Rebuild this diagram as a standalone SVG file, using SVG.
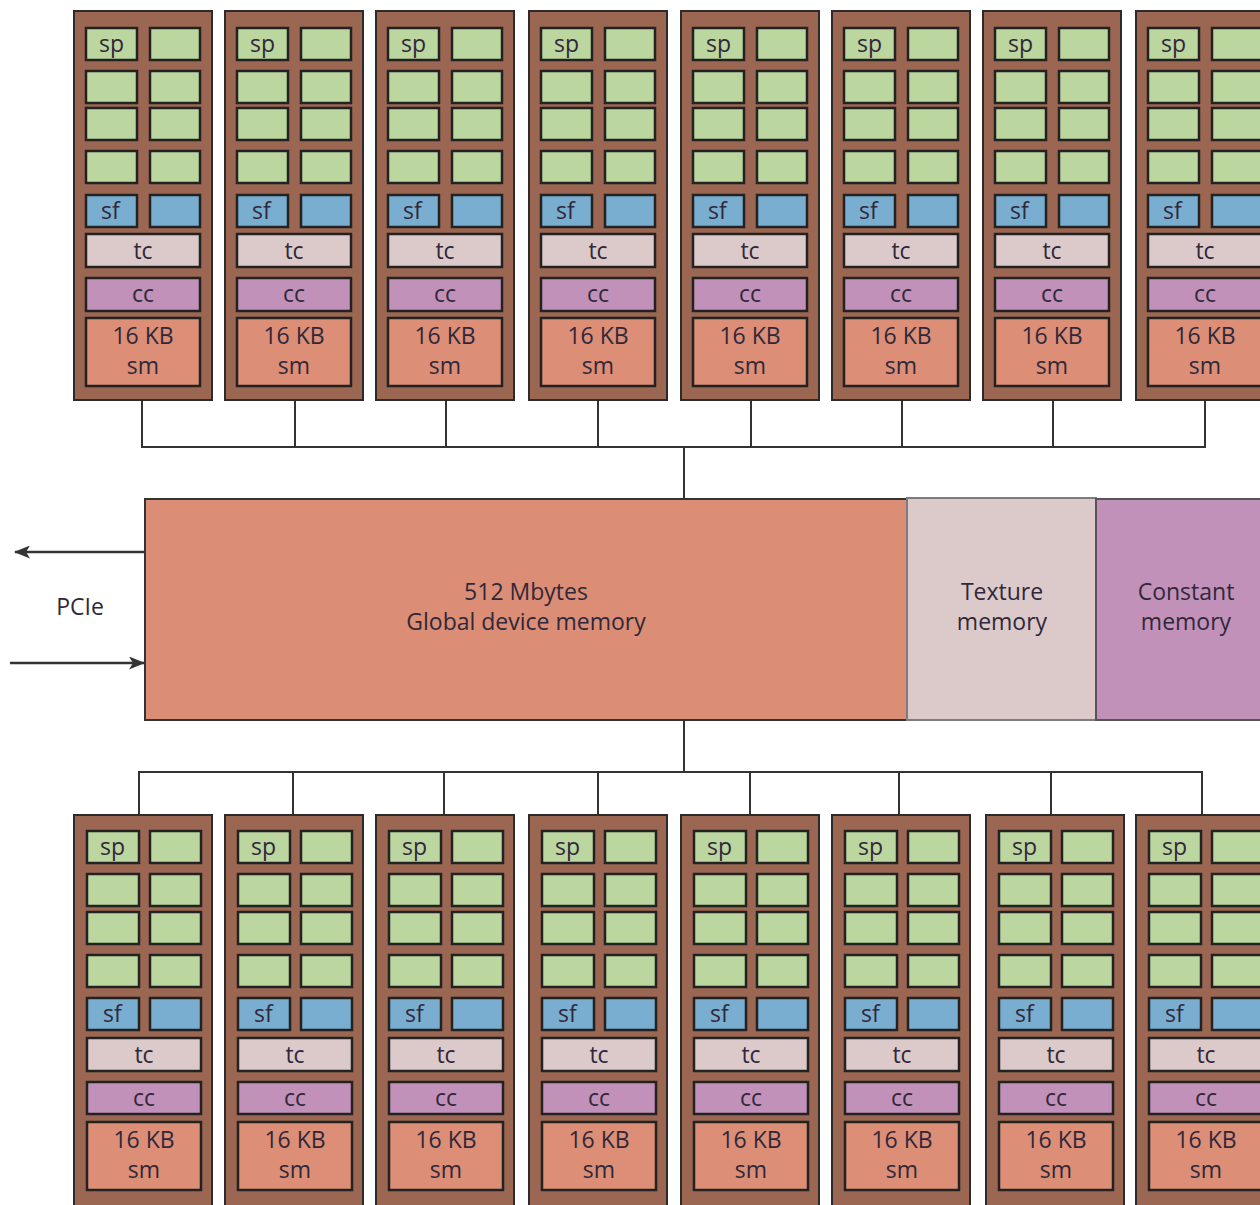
<svg xmlns="http://www.w3.org/2000/svg" width="1260" height="1205" viewBox="0 0 1260 1205">
<defs>
<style>
.bg{fill:#ffffff}
.sm{fill:#9c6752;stroke:#2e2a2a;stroke-width:2}
.sp{fill:#bcd69f;stroke:#222;stroke-width:2.5}
.sf{fill:#7aaed0;stroke:#222;stroke-width:2.5}
.tc{fill:#dccaca;stroke:#222;stroke-width:2.5}
.cc{fill:#c291ba;stroke:#222;stroke-width:2.5}
.sh{fill:#dc8e76;stroke:#222;stroke-width:2.5}
.t{font-family:"Open Sans","Liberation Sans",sans-serif;font-size:23px;fill:#30283a}
.m{text-anchor:middle}
.ln{fill:none;stroke:#333;stroke-width:2}
.ar{fill:none;stroke:#333;stroke-width:2.5}
.glob{fill:#db8d76;stroke:#333;stroke-width:2}
.tex{fill:#dcc9c9;stroke:#7c7c7c;stroke-width:2}
.con{fill:#c291b9;stroke:#555;stroke-width:2}
</style>
<marker id="ah" markerWidth="16" markerHeight="13" refX="15" refY="6.5" orient="auto" markerUnits="userSpaceOnUse">
<path d="M0,0 L16,6.5 L0,13 L4,6.5 Z" fill="#333"/>
</marker>
</defs>
<rect class="bg" x="0" y="0" width="1260" height="1205"/>

<g id="connectors">
<path class="ln" d="M142,400 V447 M295,400 V447 M446,400 V447 M598,400 V447 M751,400 V447 M902,400 V447 M1053,400 V447 M1205,400 V447 M141,447 H1206 M684,447 V499"/>
<path class="ln" d="M684,720 V772 M138,772 H1203 M139,772 V815 M293,772 V815 M444,772 V815 M598,772 V815 M750,772 V815 M899,772 V815 M1051,772 V815 M1202,772 V815"/>
<path class="ar" d="M145,552 H15" marker-end="url(#ah)"/>
<path class="ar" d="M10,663 H144" marker-end="url(#ah)"/>
</g>

<g id="memory">
<rect class="glob" x="145" y="499" width="1130" height="221"/>
<rect class="tex" x="907" y="498" width="189" height="222"/>
<rect class="con" x="1096" y="499" width="180" height="221"/>
<text class="t m" x="526" y="600">512 Mbytes</text>
<text class="t m" x="526" y="630">Global device memory</text>
<text class="t m" x="1002" y="600">Texture</text>
<text class="t m" x="1002" y="630">memory</text>
<text class="t m" x="1186" y="600">Constant</text>
<text class="t m" x="1186" y="630">memory</text>
</g>
<g id="pcie"><text class="t m" x="80" y="615">PCIe</text></g>

<!-- Top SMs -->
<g id="sm-top-1" transform="translate(74,11)">
<rect class="sm" x="0" y="0" width="138" height="389"/>
<rect class="sp" x="12" y="17" width="51" height="32"/><rect class="sp" x="76" y="17" width="50" height="32"/>
<rect class="sp" x="12" y="60" width="51" height="32"/><rect class="sp" x="76" y="60" width="50" height="32"/>
<rect class="sp" x="12" y="97" width="51" height="32"/><rect class="sp" x="76" y="97" width="50" height="32"/>
<rect class="sp" x="12" y="140" width="51" height="32"/><rect class="sp" x="76" y="140" width="50" height="32"/>
<rect class="sf" x="12" y="184" width="51" height="32"/><rect class="sf" x="76" y="184" width="50" height="32"/>
<rect class="tc" x="12" y="223" width="114" height="33"/>
<rect class="cc" x="12" y="267" width="114" height="33"/>
<rect class="sh" x="12" y="307" width="114" height="68"/>
<text class="t" x="25" y="41">sp</text><text class="t" x="27" y="208">sf</text>
<text class="t m" x="69" y="248">tc</text><text class="t m" x="69" y="291">cc</text>
<text class="t m" x="69" y="333">16 KB</text><text class="t m" x="69" y="363">sm</text>
</g>
<g id="sm-top-2" transform="translate(225,11)">
<rect class="sm" x="0" y="0" width="138" height="389"/>
<rect class="sp" x="12" y="17" width="51" height="32"/><rect class="sp" x="76" y="17" width="50" height="32"/>
<rect class="sp" x="12" y="60" width="51" height="32"/><rect class="sp" x="76" y="60" width="50" height="32"/>
<rect class="sp" x="12" y="97" width="51" height="32"/><rect class="sp" x="76" y="97" width="50" height="32"/>
<rect class="sp" x="12" y="140" width="51" height="32"/><rect class="sp" x="76" y="140" width="50" height="32"/>
<rect class="sf" x="12" y="184" width="51" height="32"/><rect class="sf" x="76" y="184" width="50" height="32"/>
<rect class="tc" x="12" y="223" width="114" height="33"/>
<rect class="cc" x="12" y="267" width="114" height="33"/>
<rect class="sh" x="12" y="307" width="114" height="68"/>
<text class="t" x="25" y="41">sp</text><text class="t" x="27" y="208">sf</text>
<text class="t m" x="69" y="248">tc</text><text class="t m" x="69" y="291">cc</text>
<text class="t m" x="69" y="333">16 KB</text><text class="t m" x="69" y="363">sm</text>
</g>
<g id="sm-top-3" transform="translate(376,11)">
<rect class="sm" x="0" y="0" width="138" height="389"/>
<rect class="sp" x="12" y="17" width="51" height="32"/><rect class="sp" x="76" y="17" width="50" height="32"/>
<rect class="sp" x="12" y="60" width="51" height="32"/><rect class="sp" x="76" y="60" width="50" height="32"/>
<rect class="sp" x="12" y="97" width="51" height="32"/><rect class="sp" x="76" y="97" width="50" height="32"/>
<rect class="sp" x="12" y="140" width="51" height="32"/><rect class="sp" x="76" y="140" width="50" height="32"/>
<rect class="sf" x="12" y="184" width="51" height="32"/><rect class="sf" x="76" y="184" width="50" height="32"/>
<rect class="tc" x="12" y="223" width="114" height="33"/>
<rect class="cc" x="12" y="267" width="114" height="33"/>
<rect class="sh" x="12" y="307" width="114" height="68"/>
<text class="t" x="25" y="41">sp</text><text class="t" x="27" y="208">sf</text>
<text class="t m" x="69" y="248">tc</text><text class="t m" x="69" y="291">cc</text>
<text class="t m" x="69" y="333">16 KB</text><text class="t m" x="69" y="363">sm</text>
</g>
<g id="sm-top-4" transform="translate(529,11)">
<rect class="sm" x="0" y="0" width="138" height="389"/>
<rect class="sp" x="12" y="17" width="51" height="32"/><rect class="sp" x="76" y="17" width="50" height="32"/>
<rect class="sp" x="12" y="60" width="51" height="32"/><rect class="sp" x="76" y="60" width="50" height="32"/>
<rect class="sp" x="12" y="97" width="51" height="32"/><rect class="sp" x="76" y="97" width="50" height="32"/>
<rect class="sp" x="12" y="140" width="51" height="32"/><rect class="sp" x="76" y="140" width="50" height="32"/>
<rect class="sf" x="12" y="184" width="51" height="32"/><rect class="sf" x="76" y="184" width="50" height="32"/>
<rect class="tc" x="12" y="223" width="114" height="33"/>
<rect class="cc" x="12" y="267" width="114" height="33"/>
<rect class="sh" x="12" y="307" width="114" height="68"/>
<text class="t" x="25" y="41">sp</text><text class="t" x="27" y="208">sf</text>
<text class="t m" x="69" y="248">tc</text><text class="t m" x="69" y="291">cc</text>
<text class="t m" x="69" y="333">16 KB</text><text class="t m" x="69" y="363">sm</text>
</g>
<g id="sm-top-5" transform="translate(681,11)">
<rect class="sm" x="0" y="0" width="138" height="389"/>
<rect class="sp" x="12" y="17" width="51" height="32"/><rect class="sp" x="76" y="17" width="50" height="32"/>
<rect class="sp" x="12" y="60" width="51" height="32"/><rect class="sp" x="76" y="60" width="50" height="32"/>
<rect class="sp" x="12" y="97" width="51" height="32"/><rect class="sp" x="76" y="97" width="50" height="32"/>
<rect class="sp" x="12" y="140" width="51" height="32"/><rect class="sp" x="76" y="140" width="50" height="32"/>
<rect class="sf" x="12" y="184" width="51" height="32"/><rect class="sf" x="76" y="184" width="50" height="32"/>
<rect class="tc" x="12" y="223" width="114" height="33"/>
<rect class="cc" x="12" y="267" width="114" height="33"/>
<rect class="sh" x="12" y="307" width="114" height="68"/>
<text class="t" x="25" y="41">sp</text><text class="t" x="27" y="208">sf</text>
<text class="t m" x="69" y="248">tc</text><text class="t m" x="69" y="291">cc</text>
<text class="t m" x="69" y="333">16 KB</text><text class="t m" x="69" y="363">sm</text>
</g>
<g id="sm-top-6" transform="translate(832,11)">
<rect class="sm" x="0" y="0" width="138" height="389"/>
<rect class="sp" x="12" y="17" width="51" height="32"/><rect class="sp" x="76" y="17" width="50" height="32"/>
<rect class="sp" x="12" y="60" width="51" height="32"/><rect class="sp" x="76" y="60" width="50" height="32"/>
<rect class="sp" x="12" y="97" width="51" height="32"/><rect class="sp" x="76" y="97" width="50" height="32"/>
<rect class="sp" x="12" y="140" width="51" height="32"/><rect class="sp" x="76" y="140" width="50" height="32"/>
<rect class="sf" x="12" y="184" width="51" height="32"/><rect class="sf" x="76" y="184" width="50" height="32"/>
<rect class="tc" x="12" y="223" width="114" height="33"/>
<rect class="cc" x="12" y="267" width="114" height="33"/>
<rect class="sh" x="12" y="307" width="114" height="68"/>
<text class="t" x="25" y="41">sp</text><text class="t" x="27" y="208">sf</text>
<text class="t m" x="69" y="248">tc</text><text class="t m" x="69" y="291">cc</text>
<text class="t m" x="69" y="333">16 KB</text><text class="t m" x="69" y="363">sm</text>
</g>
<g id="sm-top-7" transform="translate(983,11)">
<rect class="sm" x="0" y="0" width="138" height="389"/>
<rect class="sp" x="12" y="17" width="51" height="32"/><rect class="sp" x="76" y="17" width="50" height="32"/>
<rect class="sp" x="12" y="60" width="51" height="32"/><rect class="sp" x="76" y="60" width="50" height="32"/>
<rect class="sp" x="12" y="97" width="51" height="32"/><rect class="sp" x="76" y="97" width="50" height="32"/>
<rect class="sp" x="12" y="140" width="51" height="32"/><rect class="sp" x="76" y="140" width="50" height="32"/>
<rect class="sf" x="12" y="184" width="51" height="32"/><rect class="sf" x="76" y="184" width="50" height="32"/>
<rect class="tc" x="12" y="223" width="114" height="33"/>
<rect class="cc" x="12" y="267" width="114" height="33"/>
<rect class="sh" x="12" y="307" width="114" height="68"/>
<text class="t" x="25" y="41">sp</text><text class="t" x="27" y="208">sf</text>
<text class="t m" x="69" y="248">tc</text><text class="t m" x="69" y="291">cc</text>
<text class="t m" x="69" y="333">16 KB</text><text class="t m" x="69" y="363">sm</text>
</g>
<g id="sm-top-8" transform="translate(1136,11)">
<rect class="sm" x="0" y="0" width="138" height="389"/>
<rect class="sp" x="12" y="17" width="51" height="32"/><rect class="sp" x="76" y="17" width="50" height="32"/>
<rect class="sp" x="12" y="60" width="51" height="32"/><rect class="sp" x="76" y="60" width="50" height="32"/>
<rect class="sp" x="12" y="97" width="51" height="32"/><rect class="sp" x="76" y="97" width="50" height="32"/>
<rect class="sp" x="12" y="140" width="51" height="32"/><rect class="sp" x="76" y="140" width="50" height="32"/>
<rect class="sf" x="12" y="184" width="51" height="32"/><rect class="sf" x="76" y="184" width="50" height="32"/>
<rect class="tc" x="12" y="223" width="114" height="33"/>
<rect class="cc" x="12" y="267" width="114" height="33"/>
<rect class="sh" x="12" y="307" width="114" height="68"/>
<text class="t" x="25" y="41">sp</text><text class="t" x="27" y="208">sf</text>
<text class="t m" x="69" y="248">tc</text><text class="t m" x="69" y="291">cc</text>
<text class="t m" x="69" y="333">16 KB</text><text class="t m" x="69" y="363">sm</text>
</g>

<!-- Bottom SMs -->
<g id="sm-bot-1" transform="translate(74,815)">
<rect class="sm" x="0" y="0" width="138" height="400"/>
<rect class="sp" x="13" y="16" width="52" height="32"/><rect class="sp" x="76" y="16" width="51" height="32"/>
<rect class="sp" x="13" y="59" width="52" height="32"/><rect class="sp" x="76" y="59" width="51" height="32"/>
<rect class="sp" x="13" y="97" width="52" height="32"/><rect class="sp" x="76" y="97" width="51" height="32"/>
<rect class="sp" x="13" y="140" width="52" height="32"/><rect class="sp" x="76" y="140" width="51" height="32"/>
<rect class="sf" x="13" y="183" width="52" height="32"/><rect class="sf" x="76" y="183" width="51" height="32"/>
<rect class="tc" x="13" y="223" width="114" height="33"/>
<rect class="cc" x="13" y="267" width="114" height="32"/>
<rect class="sh" x="13" y="307" width="114" height="68"/>
<text class="t" x="26" y="40">sp</text><text class="t" x="29" y="207">sf</text>
<text class="t m" x="70" y="248">tc</text><text class="t m" x="70" y="291">cc</text>
<text class="t m" x="70" y="333">16 KB</text><text class="t m" x="70" y="363">sm</text>
</g>
<g id="sm-bot-2" transform="translate(225,815)">
<rect class="sm" x="0" y="0" width="138" height="400"/>
<rect class="sp" x="13" y="16" width="52" height="32"/><rect class="sp" x="76" y="16" width="51" height="32"/>
<rect class="sp" x="13" y="59" width="52" height="32"/><rect class="sp" x="76" y="59" width="51" height="32"/>
<rect class="sp" x="13" y="97" width="52" height="32"/><rect class="sp" x="76" y="97" width="51" height="32"/>
<rect class="sp" x="13" y="140" width="52" height="32"/><rect class="sp" x="76" y="140" width="51" height="32"/>
<rect class="sf" x="13" y="183" width="52" height="32"/><rect class="sf" x="76" y="183" width="51" height="32"/>
<rect class="tc" x="13" y="223" width="114" height="33"/>
<rect class="cc" x="13" y="267" width="114" height="32"/>
<rect class="sh" x="13" y="307" width="114" height="68"/>
<text class="t" x="26" y="40">sp</text><text class="t" x="29" y="207">sf</text>
<text class="t m" x="70" y="248">tc</text><text class="t m" x="70" y="291">cc</text>
<text class="t m" x="70" y="333">16 KB</text><text class="t m" x="70" y="363">sm</text>
</g>
<g id="sm-bot-3" transform="translate(376,815)">
<rect class="sm" x="0" y="0" width="138" height="400"/>
<rect class="sp" x="13" y="16" width="52" height="32"/><rect class="sp" x="76" y="16" width="51" height="32"/>
<rect class="sp" x="13" y="59" width="52" height="32"/><rect class="sp" x="76" y="59" width="51" height="32"/>
<rect class="sp" x="13" y="97" width="52" height="32"/><rect class="sp" x="76" y="97" width="51" height="32"/>
<rect class="sp" x="13" y="140" width="52" height="32"/><rect class="sp" x="76" y="140" width="51" height="32"/>
<rect class="sf" x="13" y="183" width="52" height="32"/><rect class="sf" x="76" y="183" width="51" height="32"/>
<rect class="tc" x="13" y="223" width="114" height="33"/>
<rect class="cc" x="13" y="267" width="114" height="32"/>
<rect class="sh" x="13" y="307" width="114" height="68"/>
<text class="t" x="26" y="40">sp</text><text class="t" x="29" y="207">sf</text>
<text class="t m" x="70" y="248">tc</text><text class="t m" x="70" y="291">cc</text>
<text class="t m" x="70" y="333">16 KB</text><text class="t m" x="70" y="363">sm</text>
</g>
<g id="sm-bot-4" transform="translate(529,815)">
<rect class="sm" x="0" y="0" width="138" height="400"/>
<rect class="sp" x="13" y="16" width="52" height="32"/><rect class="sp" x="76" y="16" width="51" height="32"/>
<rect class="sp" x="13" y="59" width="52" height="32"/><rect class="sp" x="76" y="59" width="51" height="32"/>
<rect class="sp" x="13" y="97" width="52" height="32"/><rect class="sp" x="76" y="97" width="51" height="32"/>
<rect class="sp" x="13" y="140" width="52" height="32"/><rect class="sp" x="76" y="140" width="51" height="32"/>
<rect class="sf" x="13" y="183" width="52" height="32"/><rect class="sf" x="76" y="183" width="51" height="32"/>
<rect class="tc" x="13" y="223" width="114" height="33"/>
<rect class="cc" x="13" y="267" width="114" height="32"/>
<rect class="sh" x="13" y="307" width="114" height="68"/>
<text class="t" x="26" y="40">sp</text><text class="t" x="29" y="207">sf</text>
<text class="t m" x="70" y="248">tc</text><text class="t m" x="70" y="291">cc</text>
<text class="t m" x="70" y="333">16 KB</text><text class="t m" x="70" y="363">sm</text>
</g>
<g id="sm-bot-5" transform="translate(681,815)">
<rect class="sm" x="0" y="0" width="138" height="400"/>
<rect class="sp" x="13" y="16" width="52" height="32"/><rect class="sp" x="76" y="16" width="51" height="32"/>
<rect class="sp" x="13" y="59" width="52" height="32"/><rect class="sp" x="76" y="59" width="51" height="32"/>
<rect class="sp" x="13" y="97" width="52" height="32"/><rect class="sp" x="76" y="97" width="51" height="32"/>
<rect class="sp" x="13" y="140" width="52" height="32"/><rect class="sp" x="76" y="140" width="51" height="32"/>
<rect class="sf" x="13" y="183" width="52" height="32"/><rect class="sf" x="76" y="183" width="51" height="32"/>
<rect class="tc" x="13" y="223" width="114" height="33"/>
<rect class="cc" x="13" y="267" width="114" height="32"/>
<rect class="sh" x="13" y="307" width="114" height="68"/>
<text class="t" x="26" y="40">sp</text><text class="t" x="29" y="207">sf</text>
<text class="t m" x="70" y="248">tc</text><text class="t m" x="70" y="291">cc</text>
<text class="t m" x="70" y="333">16 KB</text><text class="t m" x="70" y="363">sm</text>
</g>
<g id="sm-bot-6" transform="translate(832,815)">
<rect class="sm" x="0" y="0" width="138" height="400"/>
<rect class="sp" x="13" y="16" width="52" height="32"/><rect class="sp" x="76" y="16" width="51" height="32"/>
<rect class="sp" x="13" y="59" width="52" height="32"/><rect class="sp" x="76" y="59" width="51" height="32"/>
<rect class="sp" x="13" y="97" width="52" height="32"/><rect class="sp" x="76" y="97" width="51" height="32"/>
<rect class="sp" x="13" y="140" width="52" height="32"/><rect class="sp" x="76" y="140" width="51" height="32"/>
<rect class="sf" x="13" y="183" width="52" height="32"/><rect class="sf" x="76" y="183" width="51" height="32"/>
<rect class="tc" x="13" y="223" width="114" height="33"/>
<rect class="cc" x="13" y="267" width="114" height="32"/>
<rect class="sh" x="13" y="307" width="114" height="68"/>
<text class="t" x="26" y="40">sp</text><text class="t" x="29" y="207">sf</text>
<text class="t m" x="70" y="248">tc</text><text class="t m" x="70" y="291">cc</text>
<text class="t m" x="70" y="333">16 KB</text><text class="t m" x="70" y="363">sm</text>
</g>
<g id="sm-bot-7" transform="translate(986,815)">
<rect class="sm" x="0" y="0" width="138" height="400"/>
<rect class="sp" x="13" y="16" width="52" height="32"/><rect class="sp" x="76" y="16" width="51" height="32"/>
<rect class="sp" x="13" y="59" width="52" height="32"/><rect class="sp" x="76" y="59" width="51" height="32"/>
<rect class="sp" x="13" y="97" width="52" height="32"/><rect class="sp" x="76" y="97" width="51" height="32"/>
<rect class="sp" x="13" y="140" width="52" height="32"/><rect class="sp" x="76" y="140" width="51" height="32"/>
<rect class="sf" x="13" y="183" width="52" height="32"/><rect class="sf" x="76" y="183" width="51" height="32"/>
<rect class="tc" x="13" y="223" width="114" height="33"/>
<rect class="cc" x="13" y="267" width="114" height="32"/>
<rect class="sh" x="13" y="307" width="114" height="68"/>
<text class="t" x="26" y="40">sp</text><text class="t" x="29" y="207">sf</text>
<text class="t m" x="70" y="248">tc</text><text class="t m" x="70" y="291">cc</text>
<text class="t m" x="70" y="333">16 KB</text><text class="t m" x="70" y="363">sm</text>
</g>
<g id="sm-bot-8" transform="translate(1136,815)">
<rect class="sm" x="0" y="0" width="138" height="400"/>
<rect class="sp" x="13" y="16" width="52" height="32"/><rect class="sp" x="76" y="16" width="51" height="32"/>
<rect class="sp" x="13" y="59" width="52" height="32"/><rect class="sp" x="76" y="59" width="51" height="32"/>
<rect class="sp" x="13" y="97" width="52" height="32"/><rect class="sp" x="76" y="97" width="51" height="32"/>
<rect class="sp" x="13" y="140" width="52" height="32"/><rect class="sp" x="76" y="140" width="51" height="32"/>
<rect class="sf" x="13" y="183" width="52" height="32"/><rect class="sf" x="76" y="183" width="51" height="32"/>
<rect class="tc" x="13" y="223" width="114" height="33"/>
<rect class="cc" x="13" y="267" width="114" height="32"/>
<rect class="sh" x="13" y="307" width="114" height="68"/>
<text class="t" x="26" y="40">sp</text><text class="t" x="29" y="207">sf</text>
<text class="t m" x="70" y="248">tc</text><text class="t m" x="70" y="291">cc</text>
<text class="t m" x="70" y="333">16 KB</text><text class="t m" x="70" y="363">sm</text>
</g>
</svg>
